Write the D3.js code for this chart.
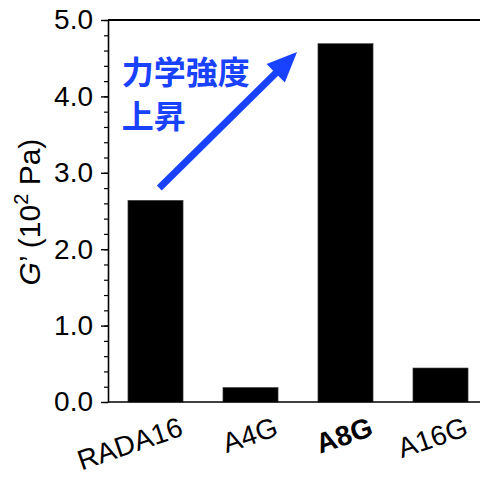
<!DOCTYPE html>
<html><head><meta charset="utf-8">
<script src="https://cdn.jsdelivr.net/npm/d3@7"></script>
<style>html,body{margin:0;padding:0;background:#fff;}</style>
</head><body>
<svg id="c" width="480" height="477"></svg>
<script>
const categories = ["RADA16", "A4G", "A8G", "A16G"];
const values = [2.64, 0.19, 4.69, 0.445];
const boldCategories = ["A8G"];
const majorTicks = [0, 1, 2, 3, 4, 5];
const minorTicks = d3.range(0, 5.001, 0.2);
const annotationLines = ["力学強度", "上昇"];

const W = 480, H = 477;
const m = {left: 108, top: 20, bottom: 402, right: 488};
const svg = d3.select("#c");
const font = "'Liberation Sans', Arial, Helvetica, sans-serif";
const blue = "#1842ff";

const x = d3.scaleBand().domain(categories).range([m.left, m.right]).paddingInner(0.42).paddingOuter(0.21);
const y = d3.scaleLinear().domain([0, 5]).range([m.bottom, m.top]);
// linear position over category index (for annotation placement)
const xi = i => x(categories[0]) + x.bandwidth() / 2 + i * x.step();

// bars
svg.append("g").selectAll("rect").data(values).join("rect")
  .attr("x", (d, i) => x(categories[i]))
  .attr("y", d => y(d))
  .attr("width", x.bandwidth())
  .attr("height", d => y(0) - y(d))
  .attr("fill", "#000")
  .attr("stroke", "#444").attr("stroke-width", 0.6);

// top frame line
svg.append("line").attr("x1", m.left).attr("x2", W).attr("y1", y(5)).attr("y2", y(5))
  .attr("stroke", "#000").attr("stroke-width", 2);
// bottom axis line
svg.append("line").attr("x1", m.left).attr("x2", W).attr("y1", y(0)).attr("y2", y(0))
  .attr("stroke", "#000").attr("stroke-width", 1.6);

// minor ticks
const minor = svg.append("g").attr("transform", `translate(${m.left},0)`)
  .call(d3.axisLeft(y).tickValues(minorTicks).tickSize(4).tickFormat(""));
minor.select(".domain").remove();
minor.selectAll("line").attr("stroke", "#000").attr("stroke-width", 1.2);

// major axis
const ya = svg.append("g").attr("transform", `translate(${m.left},0)`)
  .call(d3.axisLeft(y).tickValues(majorTicks).tickSize(7).tickPadding(8).tickFormat(d3.format(".1f")).tickSizeOuter(0));
ya.select(".domain").attr("stroke", "#000").attr("stroke-width", 1.6);
ya.selectAll(".tick line").attr("stroke", "#000").attr("stroke-width", 1.4);
ya.selectAll("text").attr("font-family", font).attr("font-size", 28).attr("fill", "#000");

// y title
const yt = svg.append("text")
  .attr("transform", `translate(40,${(m.top + m.bottom) / 2 + 1}) rotate(-90)`)
  .attr("text-anchor", "middle").attr("font-family", font).attr("font-size", 30).attr("fill", "#000");
yt.append("tspan").attr("font-style", "italic").text("G");
yt.append("tspan").text("’ (10");
yt.append("tspan").attr("font-size", 20).attr("dy", -12).text("2");
yt.append("tspan").attr("dy", 12).text(" Pa)");

// x labels
svg.append("g").selectAll("text").data(categories).join("text")
  .attr("transform", d => `translate(${x(d) + x.bandwidth() / 2 + 29},435) rotate(-19)`)
  .attr("text-anchor", "end")
  .attr("font-family", font).attr("font-size", 28)
  .attr("font-weight", d => boldCategories.includes(d) ? "bold" : "normal")
  .attr("fill", "#000")
  .text(d => d);

// annotation arrow (in data space)
const from = [xi(0.04), y(2.80)];
const tip = [xi(1.49), y(4.58)];
const dx = tip[0] - from[0], dy = tip[1] - from[1];
const L = Math.hypot(dx, dy), ux = dx / L, uy = dy / L, nx = -uy, ny = ux;
const headLen = 30, headHalf = 13;
const base = [tip[0] - ux * headLen, tip[1] - uy * headLen];
svg.append("line")
  .attr("x1", from[0]).attr("y1", from[1])
  .attr("x2", base[0] + ux * 2).attr("y2", base[1] + uy * 2)
  .attr("stroke", blue).attr("stroke-width", 7);
svg.append("path")
  .attr("d", d3.line()([tip, [base[0] + nx * headHalf, base[1] + ny * headHalf], [base[0] - nx * headHalf, base[1] - ny * headHalf]]) + "Z")
  .attr("fill", blue);

// annotation text
svg.append("g").selectAll("text").data(annotationLines).join("text")
  .attr("x", xi(-0.355))
  .attr("y", (d, i) => y(4.16) + i * 44)
  .attr("font-family", "'Noto Sans CJK JP', sans-serif")
  .attr("font-weight", "bold").attr("font-size", 32)
  .attr("fill", blue)
  .text(d => d);
</script>
</body></html>
